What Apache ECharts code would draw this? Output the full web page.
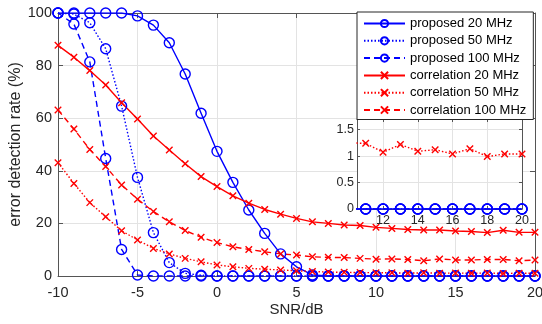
<!DOCTYPE html>
<html>
<head>
<meta charset="utf-8">
<script src="https://cdn.jsdelivr.net/npm/echarts@6/dist/echarts.min.js"></script>
<style>
  html, body { margin: 0; padding: 0; background: #fff; }
  #chart { width: 542px; height: 324px; }
</style>
</head>
<body>
<div id="chart"></div>
<script>
// SNR axis (dB), one point per dB
const snr = [-10, -9, -8, -7, -6, -5, -4, -3, -2, -1, 0, 1, 2, 3, 4, 5, 6, 7, 8, 9, 10,
             11, 12, 13, 14, 15, 16, 17, 18, 19, 20];

// error detection rate (%)
const proposed20 = [100, 100, 100, 100, 100, 98.9, 95.4, 88.7, 76.8, 61.9, 47.4, 35.6, 25.1, 16.2, 8.4, 3.5,
                    0.4, 0, 0, 0, 0, 0, 0, 0, 0, 0, 0, 0, 0, 0, 0];
const proposed50 = [100, 99.6, 96.3, 86.4, 64.6, 37.5, 16.5, 5.1, 1.0, 0.3, 0, 0, 0, 0, 0, 0,
                    0, 0, 0, 0, 0, 0, 0, 0, 0, 0, 0, 0, 0, 0, 0];
const proposed100 = [100, 95.8, 81.4, 44.7, 10.1, 0.4, 0, 0, 0, 0, 0, 0, 0, 0, 0, 0,
                     0, 0, 0, 0, 0, 0, 0, 0, 0, 0, 0, 0, 0, 0, 0];
const corr20 = [87.7, 83.2, 78.1, 72.6, 65.9, 59.7, 53.2, 47.9, 42.7, 37.8, 34.0, 30.5, 27.7, 25.3, 23.5, 21.9,
                20.6, 20.0, 19.4, 19.2, 18.5, 18.1, 17.7, 17.5, 17.5, 17.1, 16.9, 16.5, 17.4, 16.6, 16.6];
const corr50 = [43.1, 35.2, 27.9, 22.5, 17.2, 13.7, 10.5, 8.4, 6.7, 5.4, 4.2, 3.5, 2.9, 2.6, 2.3, 2.0,
                1.7, 1.5, 1.4, 1.3, 1.25, 1.24, 1.07, 1.22, 1.09, 1.12, 1.04, 1.14, 0.99, 1.04, 1.04];
const corr100 = [63.1, 55.9, 48.1, 41.6, 34.6, 29.2, 24.5, 20.6, 17.3, 14.7, 12.7, 11.1, 10.1, 9.2, 8.4, 8.0,
                 7.3, 7.1, 7.0, 6.7, 6.4, 6.5, 6.3, 5.8, 6.5, 6.1, 6.1, 6.3, 6.3, 5.8, 6.1];

const insetXTicks = [12, 14, 16, 18, 20];
const insetYTicks = [0, 0.5, 1, 1.5];

const font = "'Liberation Sans', Arial, sans-serif";
const axisColor = '#555555';
const gridColor = '#e3e3e3';
const textColor = '#262626';
const blue = '#0000ff';
const red = '#ff0000';
const cross = 'path://M0,0L10,10M10,0L0,10';

const pairs = arr => snr.map((x, i) => [x, arr[i]]);

const styles = [
  { name: 'proposed 20 MHz', data: proposed20, color: blue, type: 'solid', symbol: 'circle', size: 10 },
  { name: 'proposed 50 MHz', data: proposed50, color: blue, type: [1.5, 2], symbol: 'circle', size: 10 },
  { name: 'proposed 100 MHz', data: proposed100, color: blue, type: [6, 4], symbol: 'circle', size: 10 },
  { name: 'correlation 20 MHz', data: corr20, color: red, type: 'solid', symbol: cross, size: 6.5 },
  { name: 'correlation 50 MHz', data: corr50, color: red, type: [1.5, 2], symbol: cross, size: 6.5 },
  { name: 'correlation 100 MHz', data: corr100, color: red, type: [6, 4], symbol: cross, size: 6.5 }
];

function makeSeries(s, axisIndex, z) {
  return {
    name: s.name,
    type: 'line',
    xAxisIndex: axisIndex,
    yAxisIndex: axisIndex,
    data: pairs(s.data),
    symbol: s.symbol,
    symbolSize: s.size,
    showAllSymbol: true,
    clip: true,
    z: z,
    lineStyle: { color: s.color, width: 1.4, type: s.type },
    itemStyle: { color: 'rgba(0,0,0,0)', borderColor: s.color, borderWidth: 1.4 },
    emphasis: { disabled: true }
  };
}

const series = styles.map(s => makeSeries(s, 0, 2));
// inset only shows the series that fit its small range
[0, 1, 2, 4].forEach(i => series.push(makeSeries(styles[i], 2, 6)));

const tickLabel = { color: textColor, fontFamily: font, fontSize: 14.5 };
const line = { show: true, onZero: false, lineStyle: { color: axisColor, width: 1 } };

const chart = echarts.init(document.getElementById('chart'), null, { renderer: 'canvas' });
chart.setOption({
  animation: false,
  backgroundColor: '#fff',
  grid: [
    { left: 58, right: 7, top: 13, bottom: 48, outerBoundsMode: 'none', containLabel: false },
    { left: 357, right: 20, top: 119, bottom: 115, outerBoundsMode: 'none', containLabel: false,
      show: true, backgroundColor: '#fff', borderWidth: 0, z: 4 }
  ],
  legend: {
    data: styles.map(s => s.name),
    orient: 'vertical',
    left: 357,
    top: 12,
    itemWidth: 41,
    itemHeight: 9,
    itemGap: 4.3,
    padding: [5, 7, 3, 6],
    backgroundColor: '#fff',
    borderColor: '#262626',
    borderWidth: 1,
    borderRadius: 0,
    z: 10,
    selectedMode: false,
    textStyle: { color: '#000', fontFamily: font, fontSize: 13, lineHeight: 13 }
  },
  xAxis: [
    {
      type: 'value', gridIndex: 0, min: -10, max: 20, interval: 5, position: 'bottom',
      name: 'SNR/dB', nameLocation: 'middle', nameGap: 26, nameMoveOverlap: false,
      nameTextStyle: { color: textColor, fontFamily: font, fontSize: 15 },
      axisLine: line,
      axisTick: { show: true, inside: true, length: 5, lineStyle: { color: axisColor } },
      axisLabel: Object.assign({ margin: 9 }, tickLabel),
      splitLine: { show: true, lineStyle: { color: gridColor, width: 1 } }
    },
    {
      type: 'value', gridIndex: 0, min: -10, max: 20, interval: 5, position: 'top',
      axisLine: line,
      axisTick: { show: true, inside: true, length: 5, lineStyle: { color: axisColor } },
      axisLabel: { show: false },
      splitLine: { show: false }
    },
    {
      type: 'value', gridIndex: 1, min: 10.5, max: 20, position: 'bottom', z: 5,
      axisLine: line,
      axisTick: { show: true, inside: true, length: 3, customValues: insetXTicks, lineStyle: { color: axisColor } },
      axisLabel: { show: true, margin: 5, customValues: insetXTicks, color: textColor, fontFamily: font, fontSize: 12.5 },
      splitLine: { show: true, lineStyle: { color: gridColor, width: 1 } }
    },
    {
      type: 'value', gridIndex: 1, min: 10.5, max: 20, position: 'top', z: 5,
      axisLine: line,
      axisTick: { show: true, inside: true, length: 3, customValues: insetXTicks, lineStyle: { color: axisColor } },
      axisLabel: { show: false },
      splitLine: { show: false }
    }
  ],
  yAxis: [
    {
      type: 'value', gridIndex: 0, min: 0, max: 100, interval: 20, position: 'left',
      name: 'error detection rate (%)', nameLocation: 'middle', nameGap: 34, nameMoveOverlap: false,
      nameTextStyle: { color: textColor, fontFamily: font, fontSize: 16 },
      axisLine: line,
      axisTick: { show: true, inside: true, length: 5, lineStyle: { color: axisColor } },
      axisLabel: Object.assign({ margin: 6 }, tickLabel),
      splitLine: { show: true, lineStyle: { color: gridColor, width: 1 } }
    },
    {
      type: 'value', gridIndex: 0, min: 0, max: 100, interval: 20, position: 'right',
      axisLine: line,
      axisTick: { show: true, inside: true, length: 5, lineStyle: { color: axisColor } },
      axisLabel: { show: false },
      splitLine: { show: false }
    },
    {
      type: 'value', gridIndex: 1, min: 0, max: 1.7, position: 'left', z: 5,
      axisLine: line,
      axisTick: { show: true, inside: true, length: 3, customValues: insetYTicks, lineStyle: { color: axisColor } },
      axisLabel: { show: true, margin: 3, customValues: insetYTicks, color: textColor, fontFamily: font, fontSize: 12.5 },
      splitLine: { show: true, lineStyle: { color: gridColor, width: 1 } }
    },
    {
      type: 'value', gridIndex: 1, min: 0, max: 1.7, position: 'right', z: 5,
      axisLine: line,
      axisTick: { show: true, inside: true, length: 3, customValues: insetYTicks, lineStyle: { color: axisColor } },
      axisLabel: { show: false },
      splitLine: { show: false }
    }
  ],
  series: series
});
</script>
</body>
</html>
